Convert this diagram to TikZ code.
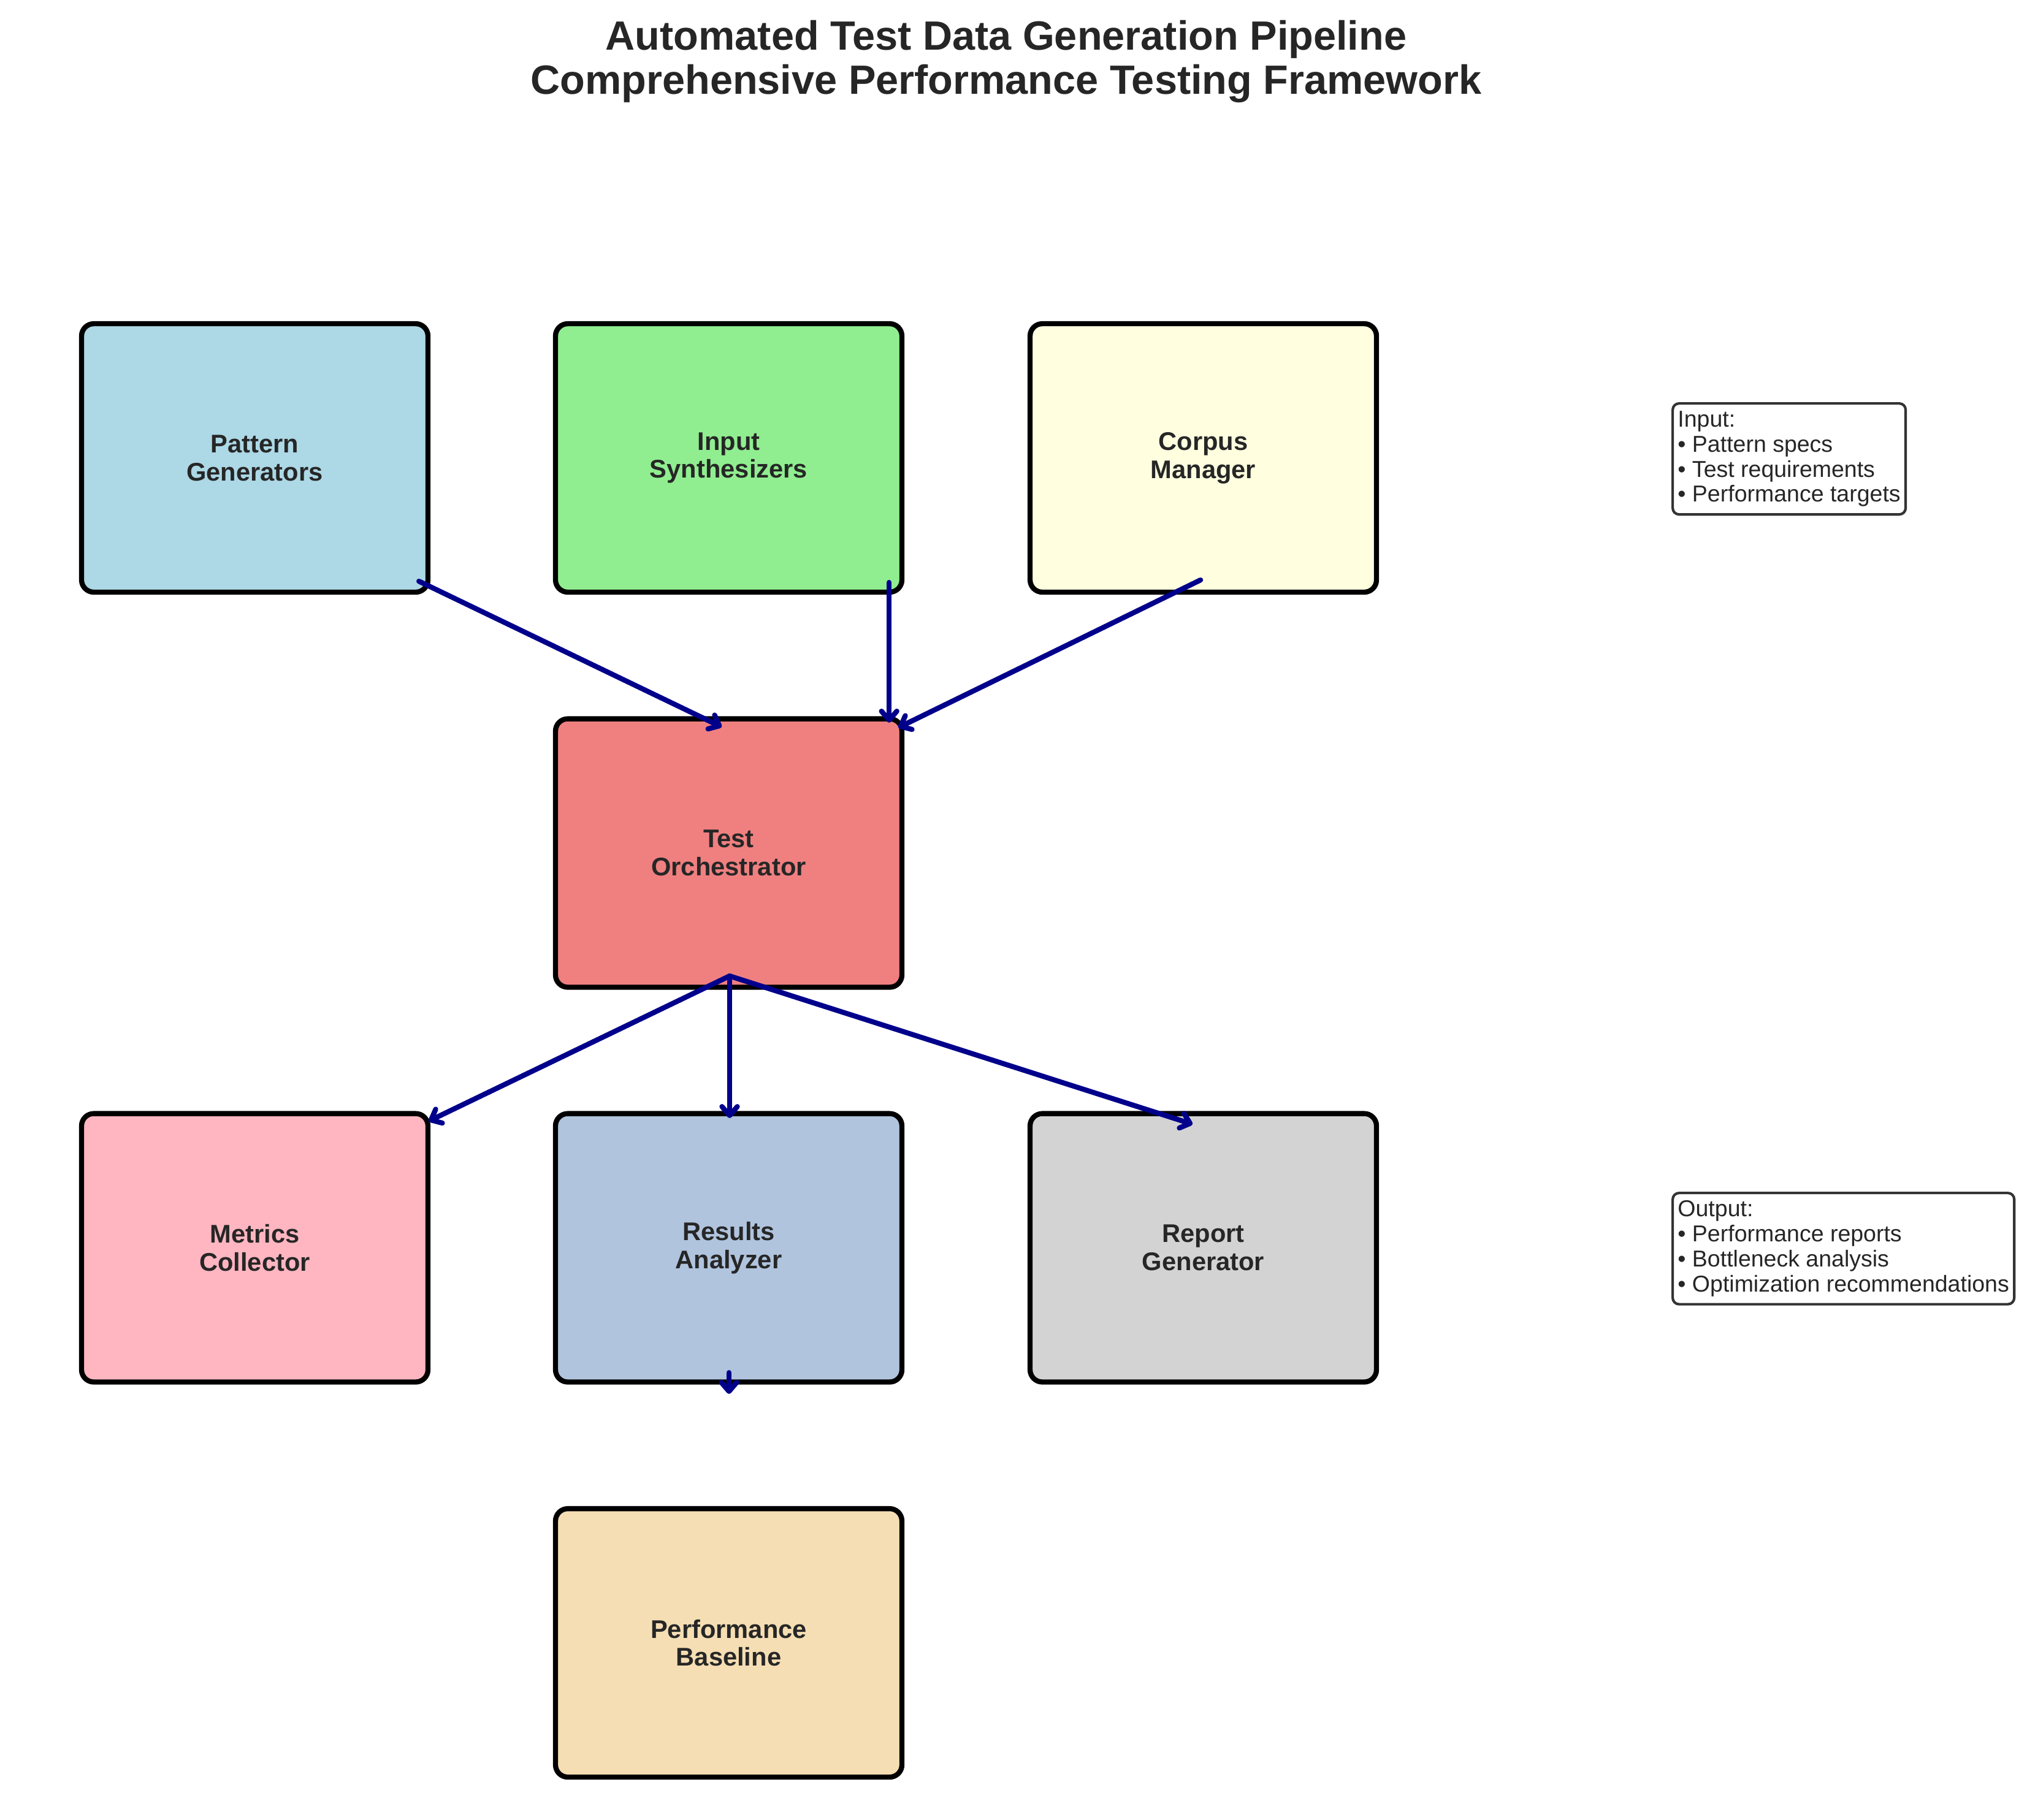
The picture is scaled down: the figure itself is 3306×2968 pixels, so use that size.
\documentclass[tikz,border=0pt]{standalone}
\usepackage{fontspec}
\setmainfont{Liberation Sans}
\usetikzlibrary{arrows.meta}

\definecolor{textgray}{HTML}{262626}
\definecolor{notegray}{HTML}{333333}
\definecolor{flowblue}{HTML}{00008B}
\definecolor{pgblue}{HTML}{ADD8E6}
\definecolor{isgreen}{HTML}{90EE90}
\definecolor{cmyellow}{HTML}{FFFFE0}
\definecolor{tocoral}{HTML}{F08080}
\definecolor{mcpink}{HTML}{FFB6C1}
\definecolor{rasteel}{HTML}{B0C4DE}
\definecolor{rggray}{HTML}{D3D3D3}
\definecolor{pbwheat}{HTML}{F5DEB3}

\begin{document}
\begin{tikzpicture}[x=0.24pt,y=-0.24pt,
                every path/.style={>={Straight Barb[length=3.5pt,width=6pt,round]}},
                stage/.style={draw=black,line width=2pt,rounded corners=4.8pt,
                  minimum width=135.6pt,minimum height=105.1pt,align=center,
                  text=textgray,font=\bfseries\fontsize{10}{11}\selectfont},
                note/.style={draw=notegray,line width=1pt,rounded corners=2.5pt,fill=white,
                  align=left,anchor=north west,inner xsep=2pt,inner ysep=3pt,
                  text=textgray,font=\fontsize{9}{9.8}\selectfont},
                flow/.style={->,draw=flowblue,line width=2pt,line cap=round}]
  \useasboundingbox (0,0) rectangle (3306,2968);
  \node[align=center,text=textgray,font=\bfseries\fontsize{16}{17.3}\selectfont]
                   (title) at (1641,100) {Automated Test Data Generation Pipeline\\Comprehensive Performance Testing Framework};
  % generation stage
  \node[stage,fill=pgblue]   (patgen)   at (415.5,747)   {Pattern\\Generators};
  \node[stage,fill=isgreen]  (inpsyn)   at (1188.5,747)  {Input\\Synthesizers};
  \node[stage,fill=cmyellow] (corpus)   at (1962.5,747)  {Corpus\\Manager};
  \node[stage,fill=tocoral]  (orch)     at (1188.5,1391.5) {Test\\Orchestrator};
  % analysis stage
  \node[stage,fill=mcpink]   (metrics)  at (415.5,2035.5)  {Metrics\\Collector};
  \node[stage,fill=rasteel]  (results)  at (1188.5,2035.5) {Results\\Analyzer};
  \node[stage,fill=rggray]   (report)   at (1962.5,2035.5) {Report\\Generator};
  \node[stage,fill=pbwheat]  (baseline) at (1188.5,2680)   {Performance\\Baseline};
  \node[note] (inlist)  at (2726,656)  {Input:\\• Pattern specs\\• Test requirements\\• Performance targets};
  \node[note] (outlist) at (2726,1944) {Output:\\• Performance reports\\• Bottleneck analysis\\• Optimization recommendations};
  \draw[flow] ([shift={(-19,-22)}]patgen.south east) -- ([shift={(-11.5,17.5)}]orch.north);
  \draw[flow] ([shift={(-25,-20)}]inpsyn.south east) -- ([shift={(-25,10.5)}]orch.north east);
  \draw[flow] ([shift={(-4.5,-24)}]corpus.south) -- ([shift={(-10,18.5)}]orch.north east);
  \draw[flow] ([shift={(1.5,-22.5)}]orch.south) -- ([shift={(-3,16.5)}]metrics.north east);
  \draw[flow] ([shift={(1.5,-22.5)}]orch.south) -- ([shift={(1.5,11.5)}]results.north);
  \draw[flow] ([shift={(1.5,-22.5)}]orch.south) -- ([shift={(-17.5,21.5)}]report.north);
  \draw[flow] ([shift={(0.5,-19.5)}]results.south) -- ([shift={(0.5,-183)}]baseline.north);
\end{tikzpicture}
\end{document}
